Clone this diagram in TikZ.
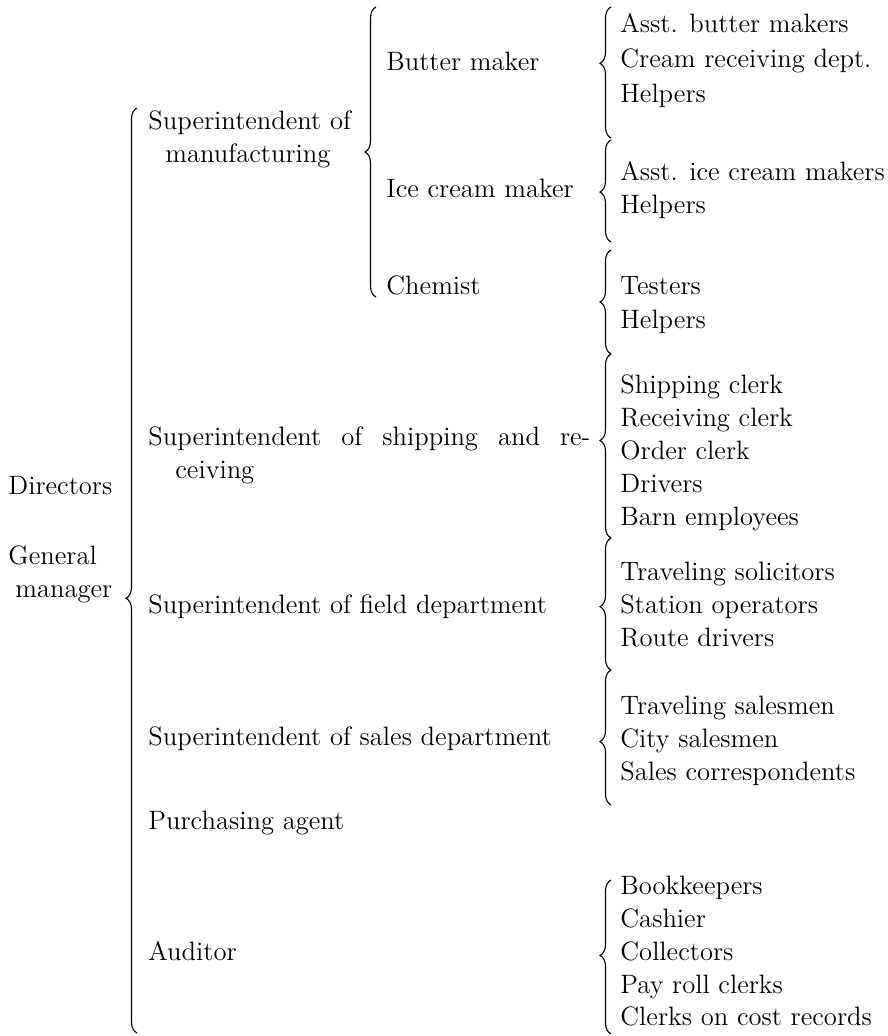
\documentclass[tikz,border=0pt]{standalone}
\usetikzlibrary{decorations.pathreplacing}
\begin{document}
\begin{tikzpicture}[x=0.5pt, y=-0.5pt,
    lbl/.style={anchor=mid west, inner sep=0pt, font=\fontsize{13.3}{16}\selectfont},
    brc/.style={decorate, line width=0.55pt, decoration={brace, amplitude=5.5pt, aspect=#1}}]

  \useasboundingbox (0,0) rectangle (887,1036);

  % 左列
  \node[lbl] (dir) at (8,490) {Directors};
  \node[lbl] (gm) at (8,560) {General};
  \node[lbl] (gm2) at (15,593) {manager};

  % 总括号
  \coordinate (gmB) at (137,1033);
  \coordinate (gmT) at (137,108);
  \draw[brc=0.47] (gmB) -- (gmT);

  % 中列
  \node[lbl] (man) at (148,125) {Superintendent of};
  \node[lbl] (man2) at (165,158) {manufacturing};
  \node[lbl] (ship) at (148,441) {\makebox[221pt][s]{Superintendent of shipping and re-}};
  \node[lbl] (ship2) at (175,474) {ceiving};
  \node[lbl] (field) at (148,609) {Superintendent of field department};
  \node[lbl] (sales) at (148,741) {Superintendent of sales department};
  \node[lbl] (purch) at (148,825) {Purchasing agent};
  \node[lbl] (aud) at (148,956) {Auditor};

  % 制造部
  \coordinate (manB) at (376,297);
  \coordinate (manT) at (376,7);
  \draw[brc=0.5] (manB) -- (manT);
  \node[lbl] (butter) at (386,66) {Butter maker};
  \node[lbl] (ice) at (386,193) {Ice cream maker};
  \node[lbl] (chem) at (386,290) {Chemist};

  % 右列括号
  \coordinate (b1B) at (611,138);  \coordinate (b1T) at (611,7);
  \coordinate (b2B) at (611,242);  \coordinate (b2T) at (611,140);
  \coordinate (b3B) at (611,354);  \coordinate (b3T) at (611,250);
  \coordinate (b4B) at (611,538);  \coordinate (b4T) at (611,354);
  \coordinate (b5B) at (611,670);  \coordinate (b5T) at (611,538);
  \coordinate (b6B) at (611,805);  \coordinate (b6T) at (611,670);
  \coordinate (b7B) at (611,1034); \coordinate (b7T) at (611,880);
  \draw[brc=0.57] (b1B) -- (b1T);
  \draw[brc=0.49] (b2B) -- (b2T);
  \draw[brc=0.5] (b3B) -- (b3T);
  \draw[brc=0.53] (b4B) -- (b4T);
  \draw[brc=0.48] (b5B) -- (b5T);
  \draw[brc=0.47] (b6B) -- (b6T);
  \draw[brc=0.51] (b7B) -- (b7T);

  % 右列
  \node[lbl] (asb) at (620,28) {Asst. butter makers};
  \node[lbl] (crd) at (620,63) {Cream receiving dept.};
  \node[lbl] (hb) at (620,98) {Helpers};
  \node[lbl] (aic) at (620,176) {Asst. ice cream makers};
  \node[lbl] (hi) at (620,209) {Helpers};
  \node[lbl] (test) at (620,290) {Testers};
  \node[lbl] (hc) at (620,324) {Helpers};
  \node[lbl] (shc) at (620,389) {Shipping clerk};
  \node[lbl] (rcc) at (620,422) {Receiving clerk};
  \node[lbl] (ordc) at (620,455) {Order clerk};
  \node[lbl] (drv) at (620,488) {Drivers};
  \node[lbl] (barn) at (620,521) {Barn employees};
  \node[lbl] (tsol) at (620,576) {Traveling solicitors};
  \node[lbl] (stop) at (620,609) {Station operators};
  \node[lbl] (rdrv) at (620,642) {Route drivers};
  \node[lbl] (tsal) at (620,710) {Traveling salesmen};
  \node[lbl] (csal) at (620,743) {City salesmen};
  \node[lbl] (scor) at (620,776) {Sales correspondents};
  \node[lbl] (bkp) at (620,890) {Bookkeepers};
  \node[lbl] (cash) at (620,923) {Cashier};
  \node[lbl] (coll) at (620,956) {Collectors};
  \node[lbl] (pay) at (620,989) {Pay roll clerks};
  \node[lbl] (cost) at (620,1021) {Clerks on cost records};

\end{tikzpicture}
\end{document}
